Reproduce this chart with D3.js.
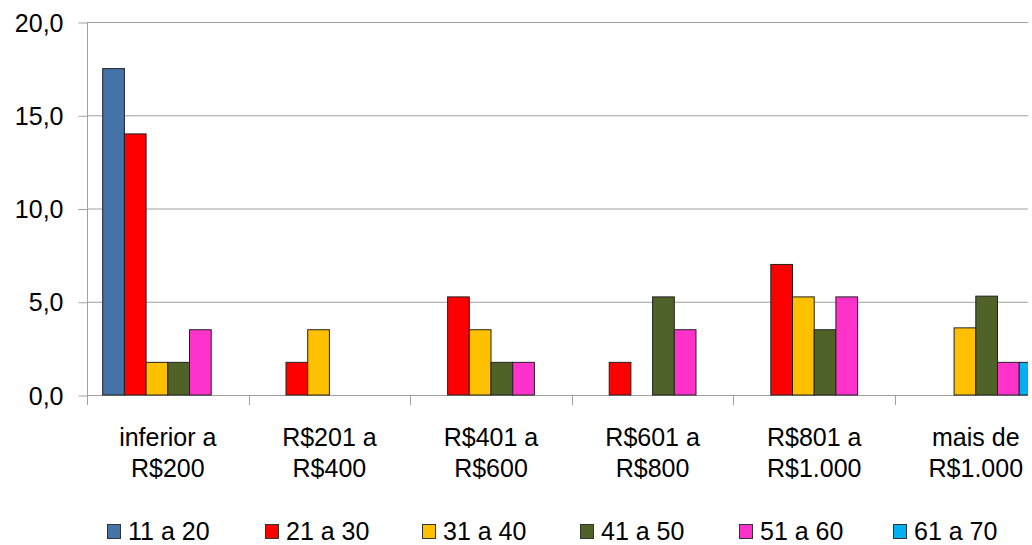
<!DOCTYPE html>
<html>
<head>
<meta charset="utf-8">
<script src="https://cdn.jsdelivr.net/npm/d3@7"></script>
<style>
  html, body { margin: 0; padding: 0; background: #fff; }
  svg { display: block; }
  text { font-family: "Liberation Sans", Arial, sans-serif; fill: #000; }
</style>
</head>
<body>
<svg id="chart" width="1032" height="545"></svg>
<script>
const categories = [
  ["inferior a", "R$200"],
  ["R$201 a", "R$400"],
  ["R$401 a", "R$600"],
  ["R$601 a", "R$800"],
  ["R$801 a", "R$1.000"],
  ["mais de", "R$1.000"]
];
const seriesNames = ["11 a 20", "21 a 30", "31 a 40", "41 a 50", "51 a 60", "61 a 70"];
const seriesColors = ["#4572A7", "#FF0000", "#FFC000", "#4F6228", "#FF33CC", "#00B0F0"];
const s11a20 = [17.5, 0, 0, 0, 0, 0];
const s21a30 = [14.0, 1.75, 5.26, 1.75, 7.0, 0];
const s31a40 = [1.75, 3.5, 3.5, 0, 5.26, 3.6];
const s41a50 = [1.75, 0, 1.75, 5.26, 3.5, 5.3];
const s51a60 = [3.5, 0, 1.75, 3.5, 5.26, 1.75];
const s61a70 = [0, 0, 0, 0, 0, 1.75];
const seriesValues = [s11a20, s21a30, s31a40, s41a50, s51a60, s61a70];
const yTicks = [0, 5, 10, 15, 20];

const svg = d3.select("#chart");
const mLeft = 87, mTop = 22, mBottom = 395, step = 161.6, clipRight = 1028;

const x0 = d3.scaleBand()
  .domain(d3.range(categories.length))
  .range([mLeft, mLeft + step * categories.length])
  .padding(0);
const x1 = d3.scaleBand()
  .domain(d3.range(seriesNames.length))
  .range([15.7, step - 15.7])
  .padding(0);
const y = d3.scaleLinear().domain([0, 20]).range([mBottom, mTop]);

svg.append("defs").append("clipPath").attr("id", "plotclip")
  .append("rect").attr("x", 0).attr("y", 0).attr("width", clipRight).attr("height", 545);

const plot = svg.append("g").attr("clip-path", "url(#plotclip)");

// gridlines
plot.append("g").selectAll("line").data(yTicks).join("line")
  .attr("x1", mLeft).attr("x2", clipRight + 20)
  .attr("y1", d => y(d) + 0.5).attr("y2", d => y(d) + 0.5)
  .attr("stroke", "#a0a0a0").attr("stroke-width", 1);

// y axis
const yAxis = d3.axisLeft(y).tickValues(yTicks)
  .tickFormat(d => d.toFixed(1).replace(".", ","))
  .tickSize(9).tickPadding(15);
const yg = svg.append("g").attr("transform", `translate(${mLeft + 0.5},0.5)`).call(yAxis);
yg.select(".domain").attr("stroke", "#a0a0a0").attr("d", `M0,${mTop}V${mBottom}`);
yg.selectAll(".tick line").attr("stroke", "#a0a0a0");
yg.selectAll(".tick text")
  .style("font-family", '"Liberation Sans", Arial, sans-serif')
  .style("font-size", "25px").attr("fill", "#000").attr("dy", "0.34em");

// x axis ticks at category boundaries
const bounds = d3.range(categories.length + 1).map(i => i < categories.length ? x0(i) : x0(categories.length - 1) + x0.bandwidth());
plot.append("g").selectAll("line").data(bounds).join("line")
  .attr("x1", d => Math.round(d) + 0.5).attr("x2", d => Math.round(d) + 0.5)
  .attr("y1", mBottom).attr("y2", mBottom + 10)
  .attr("stroke", "#a0a0a0");

// bars
const barData = [];
seriesValues.forEach((vals, s) => vals.forEach((v, c) => { if (v > 0) barData.push({ s, c, v }); }));
plot.append("g").selectAll("rect").data(barData).join("rect")
  .attr("x", d => x0(d.c) + x1(d.s))
  .attr("y", d => y(d.v))
  .attr("width", x1.bandwidth())
  .attr("height", d => y(0) - y(d.v))
  .attr("fill", d => seriesColors[d.s])
  .attr("stroke", "#222").attr("stroke-width", 1);

// category labels
const cl = svg.append("g").selectAll("text").data(categories).join("text")
  .attr("text-anchor", "middle")
  .style("font-size", "25px");
cl.each(function(d, i) {
  const t = d3.select(this);
  const cx = x0(i) + x0.bandwidth() / 2;
  t.append("tspan").attr("x", cx).attr("y", 446).text(d[0]);
  t.append("tspan").attr("x", cx).attr("y", 477).text(d[1]);
});

// legend
const legendX = [107, 265, 422, 580, 739, 893];
const lg = svg.append("g").selectAll("g").data(seriesNames).join("g")
  .attr("transform", (d, i) => `translate(${legendX[i]},0)`);
lg.append("rect").attr("x", 0.5).attr("y", 524.5).attr("width", 13).attr("height", 14)
  .attr("fill", (d, i) => seriesColors[i]).attr("stroke", "#333");
lg.append("text").attr("x", 21).attr("y", 540).style("font-size", "25px").text(d => d);
</script>
</body>
</html>
